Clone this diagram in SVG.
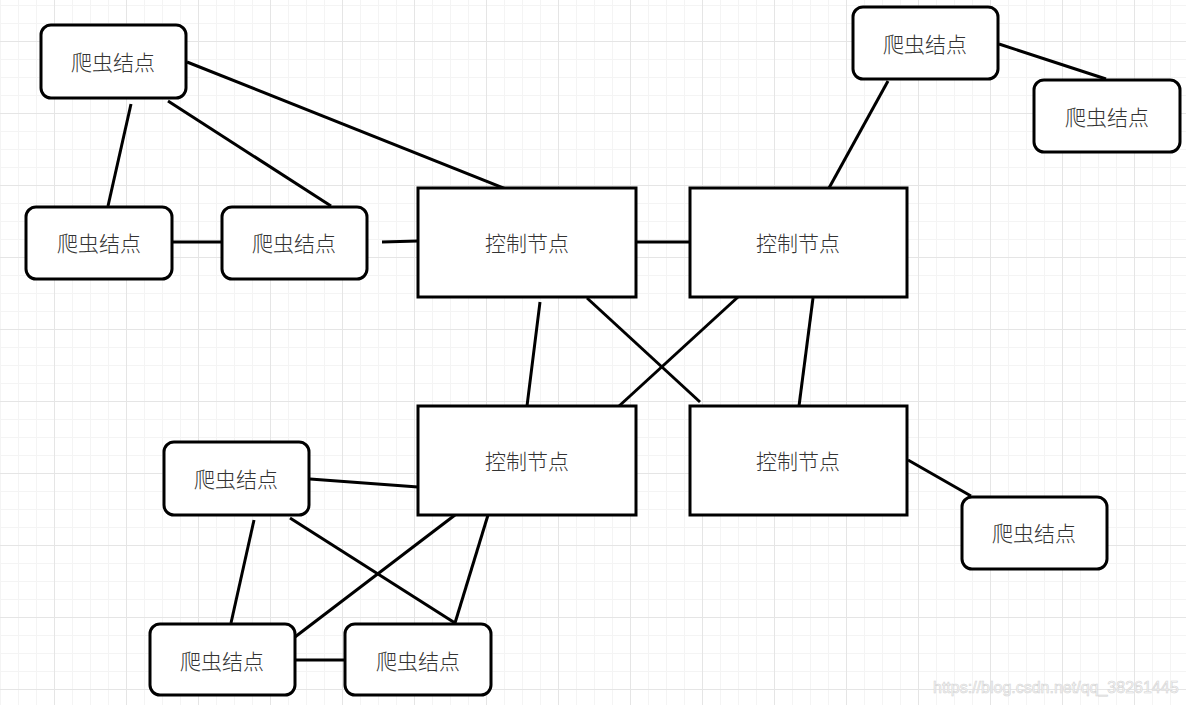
<svg xmlns="http://www.w3.org/2000/svg" width="1186" height="705" viewBox="0 0 1186 705">
<defs>
<pattern id="minor" x="0" y="5" width="18" height="18" patternUnits="userSpaceOnUse">
<path d="M0.5 0V18M0 0.5H18" fill="none" stroke="#f4f4f4" stroke-width="1"/>
</pattern>
<pattern id="major" x="54" y="41" width="72" height="72" patternUnits="userSpaceOnUse">
<path d="M0.5 0V72M0 0.5H72" fill="none" stroke="#e5e5e5" stroke-width="1"/>
</pattern>
</defs>
<style>
.spider{fill:#fff;stroke:#000;stroke-width:3}
.ctrl{fill:#fff;stroke:#000;stroke-width:3}
.lbl{font-family:"Noto Sans CJK SC","Noto Sans",sans-serif;font-size:21px;fill:#333;text-anchor:middle;dominant-baseline:central;font-weight:300}
.edge{stroke:#000;stroke-width:3;fill:none}
.wm{font-family:"Liberation Sans",Arial,sans-serif;font-size:16px;fill:#fafafa;stroke:#d4d4d4;stroke-width:0.6}
</style>
<rect width="1186" height="705" fill="#fff"/>
<rect width="1186" height="705" fill="url(#minor)"/>
<rect width="1186" height="705" fill="url(#major)"/>
<g id="connectors">
<line class="edge" x1="187" y1="62" x2="511" y2="191"/>
<line class="edge" x1="131" y1="104" x2="108" y2="206"/>
<line class="edge" x1="168" y1="101" x2="331" y2="206"/>
<line class="edge" x1="172" y1="242" x2="222" y2="242"/>
<line class="edge" x1="382" y1="242" x2="418" y2="241"/>
<line class="edge" x1="636" y1="242" x2="690" y2="242"/>
<line class="edge" x1="888" y1="81" x2="829" y2="188"/>
<line class="edge" x1="999" y1="44" x2="1106" y2="79"/>
<line class="edge" x1="540" y1="302" x2="527" y2="406"/>
<line class="edge" x1="587" y1="298" x2="700" y2="402"/>
<line class="edge" x1="738" y1="297" x2="618" y2="407"/>
<line class="edge" x1="813" y1="298" x2="799" y2="406"/>
<line class="edge" x1="908" y1="460" x2="971" y2="496"/>
<line class="edge" x1="310" y1="479" x2="418" y2="487"/>
<line class="edge" x1="254" y1="520" x2="231" y2="623"/>
<line class="edge" x1="290" y1="518" x2="455" y2="623"/>
<line class="edge" x1="455" y1="515" x2="291" y2="640"/>
<line class="edge" x1="488" y1="515" x2="455" y2="623"/>
<line class="edge" x1="295" y1="660" x2="345" y2="660"/>
</g>
<g id="spider1"><rect class="spider" x="41" y="25" width="145" height="73" rx="10"/><text class="lbl" x="113" y="61">爬虫结点</text></g>
<g id="spider2"><rect class="spider" x="26" y="207" width="146" height="72" rx="10"/><text class="lbl" x="99" y="242">爬虫结点</text></g>
<g id="spider3"><rect class="spider" x="222" y="207" width="145" height="72" rx="10"/><text class="lbl" x="294" y="242">爬虫结点</text></g>
<g id="spider4"><rect class="spider" x="853" y="7" width="145" height="72" rx="10"/><text class="lbl" x="925" y="43">爬虫结点</text></g>
<g id="spider5"><rect class="spider" x="1034" y="80" width="146" height="72" rx="10"/><text class="lbl" x="1107" y="116">爬虫结点</text></g>
<g id="spider6"><rect class="spider" x="962" y="497" width="145" height="72" rx="10"/><text class="lbl" x="1034" y="532">爬虫结点</text></g>
<g id="spider7"><rect class="spider" x="164" y="442" width="145" height="73" rx="10"/><text class="lbl" x="236" y="478">爬虫结点</text></g>
<g id="spider8"><rect class="spider" x="150" y="624" width="145" height="71" rx="10"/><text class="lbl" x="222" y="660">爬虫结点</text></g>
<g id="spider9"><rect class="spider" x="345" y="624" width="146" height="71" rx="10"/><text class="lbl" x="418" y="660">爬虫结点</text></g>
<g id="ctrlA"><rect class="ctrl" x="418" y="188" width="218" height="109"/><text class="lbl" x="527" y="242">控制节点</text></g>
<g id="ctrlB"><rect class="ctrl" x="690" y="188" width="217" height="109"/><text class="lbl" x="798" y="242">控制节点</text></g>
<g id="ctrlC"><rect class="ctrl" x="418" y="406" width="218" height="109"/><text class="lbl" x="527" y="460">控制节点</text></g>
<g id="ctrlD"><rect class="ctrl" x="690" y="406" width="217" height="109"/><text class="lbl" x="798" y="460">控制节点</text></g>
<text class="wm" x="933" y="693">https://blog.csdn.net/qq_38261445</text>
</svg>
